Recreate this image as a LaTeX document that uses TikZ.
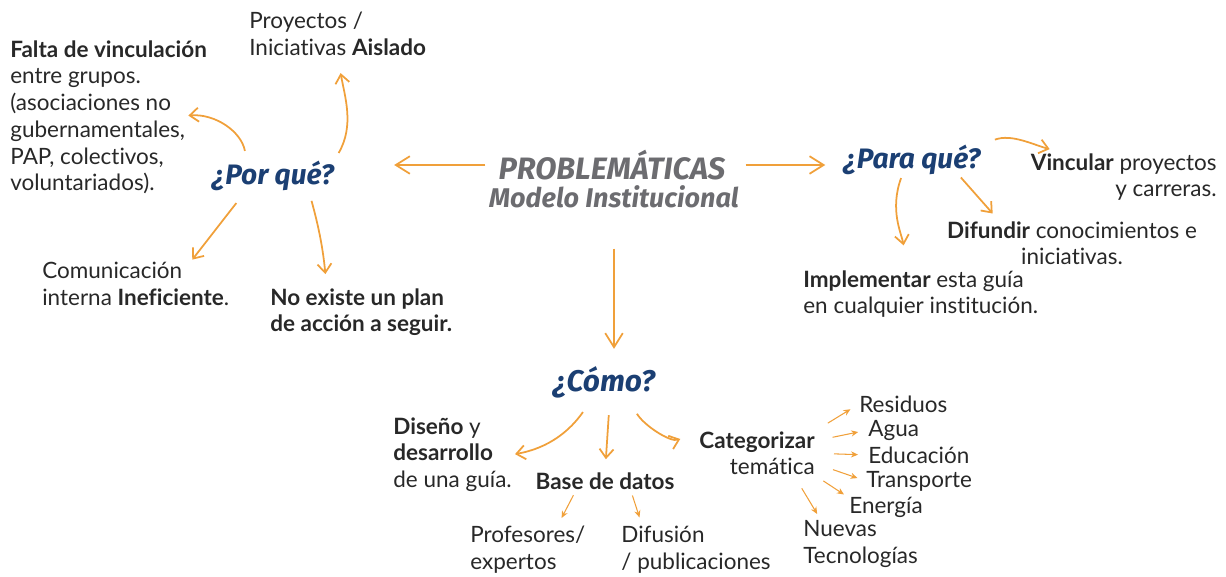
\documentclass[tikz,border=0pt]{standalone}
\usepackage{fontspec}
\setmainfont{Lato}[Ligatures=NoCommon]
\newfontfamily\headfont{Fira Sans}
\usetikzlibrary{arrows.meta}

\definecolor{arrowc}{RGB}{240,160,58}
\definecolor{headc}{RGB}{27,63,115}
\definecolor{textc}{RGB}{40,40,40}
\definecolor{probc}{RGB}{108,108,112}

\begin{document}
\begin{tikzpicture}[
        x = 0.02cm, y = 0.02cm, % one unit is one pixel of the sketch
        > = {Straight Barb[length=5pt,width=8pt]}, % arrow head style
        head/.style = {font=\headfont\fontsize{16}{18}\selectfont\bfseries\itshape, text=headc},
        title/.style = {font=\headfont\fontsize{#1}{15.3}\selectfont\bfseries\itshape, text=probc},
        txt/.style = {font=\fontsize{12.8}{15.3}\selectfont, text=textc},
        link/.style = {draw=arrowc, line width=1pt, ->},
        big/.style = {draw=arrowc, line width=1pt, -{Straight Barb[length=8pt,width=10pt]}},
        twig/.style = {draw=arrowc, line width=0.6pt, -{Stealth[length=4pt,width=3.5pt]}}
    ]

    \tikzstyle{every node}=[
    inner sep = 0pt,
    align = left
    ]

    \useasboundingbox (0,0) rectangle (1226,-577);

    % centre
    \node[title=17.6] (prob) at (612,-165) {PROBLEMÁTICAS};
    \node[title=15.4] (mode) at (614,-197) {Modelo Institucional};

    % questions
    \node[head] (por) at (273,-176) {¿Por qué?};
    \node[head] (para) at (912,-160) {¿Para qué?};
    \node[head, font=\headfont\fontsize{17}{18}\selectfont\bfseries\itshape] (como) at (604,-382) {¿Cómo?};

    % por que
    \node[txt, anchor=north west] (proy) at (249,-12) {Proyectos /\\Iniciativas \textbf{Aislado}};
    \node[txt, anchor=north west] (falta) at (10,-40) {\textbf{Falta de vinculación}};
    \node[txt, anchor=north west] (grupos) at (10,-68) {entre grupos.\\(asociaciones no\\gubernamentales,\\PAP, colectivos,\\voluntariados).};
    \node[txt, anchor=north west] (comu) at (42,-262) {Comunicación\\interna \textbf{Ineficiente}.};
    \node[txt, anchor=north west] (noex) at (270,-288) {\textbf{No existe un plan}\\\textbf{de acción a seguir.}};

    % para que
    \node[txt, anchor=north east, align=right] (vinc) at (1217,-153) {\textbf{Vincular} proyectos\\y carreras.};
    \node[txt, anchor=north, align=center] (difu) at (1072,-221) {\textbf{Difundir} conocimientos e\\iniciativas.};
    \node[txt, anchor=north west] (impl) at (803,-270) {\textbf{Implementar} esta guía\\en cualquier institución.};

    % como
    \node[txt, anchor=north west] (dise) at (393,-417) {\textbf{Diseño} y\\\textbf{desarrollo}\\de una guía.};
    \node[txt] (base) at (605,-481) {\textbf{Base de datos}};
    \node[txt, anchor=north east, align=right] (cate) at (815,-431) {\textbf{Categorizar}\\temática};
    \node[txt, anchor=north west] (prof) at (470,-526) {Profesores/\\expertos};
    \node[txt, anchor=north west] (difs) at (621,-526) {Difusión\\/ publicaciones};

    % temas
    \node[txt, anchor=west] (resi) at (859,-404) {Residuos};
    \node[txt, anchor=west] (agua) at (868,-430) {Agua};
    \node[txt, anchor=west] (educ) at (868,-455) {Educación};
    \node[txt, anchor=west] (tran) at (866,-481) {Transporte};
    \node[txt, anchor=west] (ener) at (849,-507) {Energía};
    \node[txt, anchor=north west] (nuev) at (803,-520) {Nuevas\\Tecnologías};

    % from the centre
    \path (prob.west) edge[big, shorten <=0.26cm, shorten >=1.2cm] (por.east |- prob.west);
    \path (prob.east) edge[big, shorten <=0.4cm, shorten >=0.36cm] (para.west |- prob.east);
    \path (mode.south) edge[big, shorten <=0.8cm, shorten >=0.34cm] (como.north -| mode.south);

    % por que
    \path (por.north east) edge[link, shorten <=0.18cm, shorten >=0.34cm, out=60, in=-80] (proy.south);
    \path (por.150) edge[link, shorten <=0.2cm, shorten >=0.06cm, out=100, in=5] (grupos.10);
    \path (por.209) edge[link, shorten <=0.3cm, shorten >=0.06cm] (comu.22);
    \path (por.337) edge[link, shorten <=0.2cm, shorten >=0.28cm, bend left=5] (noex.145);

    % para que
    \path (para.north east) edge[link, shorten <=0.3cm, shorten >=0.3cm, out=20, in=165] (vinc.158);
    \path (para.342) edge[link, shorten <=0.06cm, shorten >=0.2cm] (difu.163);
    \path (para.237) edge[link, shorten <=0.06cm, shorten >=0.5cm, out=250, in=100] (impl.118);

    % como
    \path (como.235) edge[link, shorten <=0.34cm, shorten >=0.06cm, out=235, in=10] (dise.east);
    \path (como.290) edge[link, shorten <=0.34cm, shorten >=0.26cm] (base.north);
    \path (como.326) edge[link, shorten <=0.36cm, shorten >=0.4cm, out=-60, in=200] (cate.160);
    \path (base.197) edge[twig, shorten <=0.12cm, shorten >=0.18cm] (prof.39);
    \path (base.341) edge[twig, shorten <=0.12cm, shorten >=0.18cm] (difs.156);

    % temas
    \path (cate.north east) edge[twig, shorten <=0.3cm, shorten >=0.2cm] (resi.west);
    \path (cate.12) edge[twig, shorten <=0.36cm, shorten >=0.2cm] (agua.west);
    \path (cate.east) edge[twig, shorten <=0.38cm, shorten >=0.2cm] (educ.west);
    \path (cate.350) edge[twig, shorten <=0.38cm, shorten >=0.18cm] (tran.west);
    \path (cate.south east) edge[twig, shorten <=0.2cm, shorten >=0.12cm] (ener.166);
    \path (cate.329) edge[twig, shorten <=0.3cm, shorten >=0.14cm] (nuev.149);
\end{tikzpicture}
\end{document}
